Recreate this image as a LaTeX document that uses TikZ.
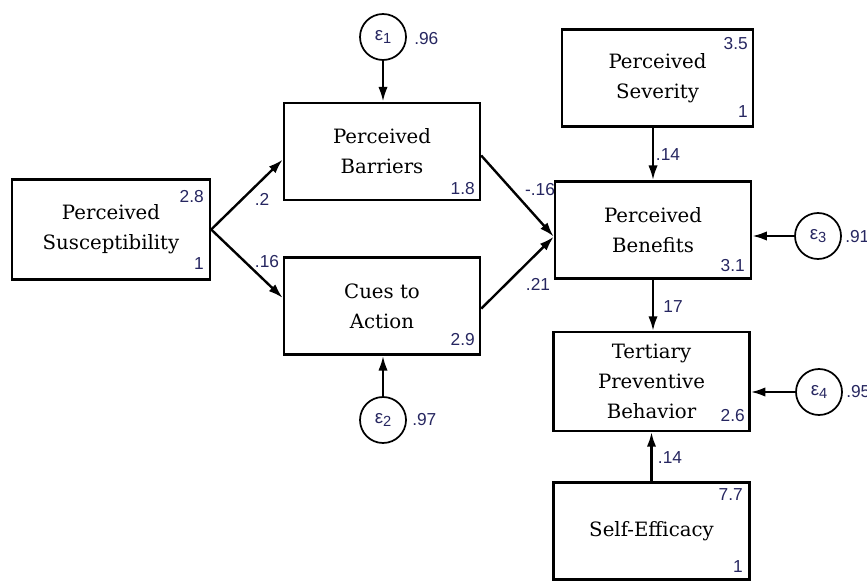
\documentclass[tikz,border=0pt]{standalone}
\usepackage{fontspec}
\setmainfont{DejaVu Serif}
\newfontfamily\numfont{Liberation Sans}
\usetikzlibrary{arrows.meta,positioning,calc}
\definecolor{numcol}{RGB}{38,38,96}
\newcommand{\eps}[1]{ε\raisebox{-2.5pt}{\fontsize{11}{11}\selectfont #1}}

\begin{document}
\begin{tikzpicture}[x=0.75pt,y=-0.75pt,
    var/.style={draw,line width=1.8pt,minimum width=147pt,minimum height=73pt,
      align=center,inner sep=0pt,font=\fontsize{14.8}{22.5}\selectfont},
    err/.style={draw,circle,line width=1.3pt,minimum size=34.5pt,inner sep=0pt,
      font=\numfont\fontsize{14}{14}\selectfont,text=numcol},
    coef/.style={inner sep=0pt,font=\numfont\fontsize{13}{13}\selectfont,text=numcol},
    link/.style={line width=1.8pt,-{Latex[length=11pt,width=7pt]}}]
    \useasboundingbox (0,0) rectangle (867,581);
    % observed variables
    \node[var,minimum width=148.5pt,minimum height=75pt] (sus) at (111,229.5) {Perceived\\Susceptibility};
    \node[var] (bar) at (382,151.5) {Perceived\\Barriers};
    \node[var] (cue) at (382,306) {Cues to\\Action};
    \node[var,minimum width=143.25pt] (sev) at (657.5,78) {Perceived\\Severity};
    \node[var] (ben) at (653,230) {Perceived\\Benefits};
    \node[var,minimum height=74pt] (ter) at (651.5,381.5) {Tertiary\\Preventive\\Behavior};
    \node[var] (eff) at (651.5,531) {Self-Efficacy};
    % error terms
    \node[err] (e1) at (383,37) {\eps{1}};
    \node[err] (e2) at (383,420) {\eps{2}};
    \node[err] (e3) at (818,236) {\eps{3}};
    \node[err] (e4) at (819,392) {\eps{4}};
    % paths
    \draw[link] (sus.east) -- ([yshift=-6pt]bar.west);
    \draw[link] (sus.east) -- ([yshift=6pt]cue.west);
    \draw[link] ([yshift=-3pt]bar.east) -- ([yshift=-5pt]ben.west);
    \draw[link] ([yshift=-2pt]cue.east) -- ([yshift=-5pt]ben.west);
    \draw[link] (sev.south -| ben.north) -- (ben.north);
    \draw[link] (ben.south) -- (ben.south |- ter.north);
    \draw[link] (eff.north) -- (eff.north |- ter.south);
    \draw[link] (e1.south) -- (e1.south |- bar.north);
    \draw[link] (e2.north) -- (e2.north |- cue.south);
    \draw[link] (e3.west) -- (e3.west -| ben.east);
    \draw[link] (e4.west) -- (e4.west -| ter.east);
    % path coefficients
    \node[coef] (c1) at (262,199) {.2};
    \node[coef] (c2) at (267,262) {.16};
    \node[coef] (c3) at (540,190) {-.16};
    \node[coef] (c4) at (538,284) {.21};
    \node[coef] (c5) at (668,155) {.14};
    \node[coef] (c6) at (673,307) {17};
    \node[coef] (c7) at (670,458) {.14};
    % error variances
    \node[coef,anchor=west] (v1) at (414,39) {.96};
    \node[coef,anchor=west] (v2) at (412,420) {.97};
    \node[coef,anchor=west] (v3) at (845,237) {.91};
    \node[coef,anchor=west] (v4) at (846,392) {.95};
    % intercepts and variances
    \node[coef,anchor=north east] (i1) at (204,190) {2.8};
    \node[coef,anchor=south east] (i2) at (204,270) {1};
    \node[coef,anchor=south east] (i3) at (475,195) {1.8};
    \node[coef,anchor=south east] (i4) at (475,346) {2.9};
    \node[coef,anchor=north east] (i5) at (748,37) {3.5};
    \node[coef,anchor=south east] (i6) at (748,118) {1};
    \node[coef,anchor=south east] (i7) at (745,272) {3.1};
    \node[coef,anchor=south east] (i8) at (745,422) {2.6};
    \node[coef,anchor=north east] (i9) at (743,488) {7.7};
    \node[coef,anchor=south east] (i10) at (743,573) {1};
  \end{tikzpicture}
\end{document}
